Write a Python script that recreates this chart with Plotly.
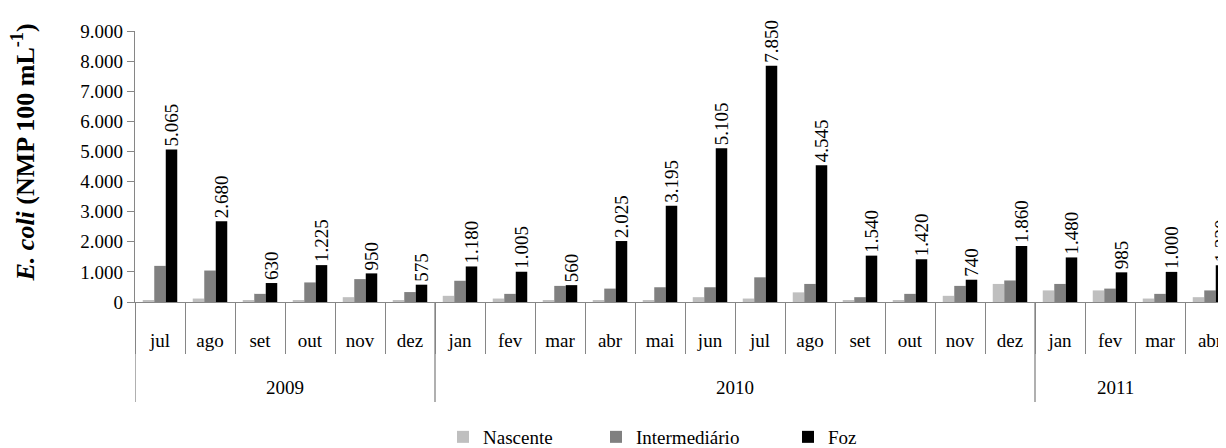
import plotly.graph_objects as go

months = ["jul", "ago", "set", "out", "nov", "dez",
          "jan", "fev", "mar", "abr", "mai", "jun", "jul", "ago", "set", "out", "nov", "dez",
          "jan", "fev", "mar", "abr"]
years = ["2009", "2010", "2011"]
year_start_idx = [0, 6, 18]
year_label_pos = [2.5, 11.5, 19.1]

nascente = [60, 115, 60, 60, 160, 50, 205, 115, 45, 45, 45, 160, 115, 320, 45, 45, 205, 600, 385, 385, 115, 160]
intermediario = [1200, 1045, 270, 650, 760, 330, 705, 270, 535, 445, 490, 490, 820, 600, 160, 270, 535, 715, 600, 445, 270, 385]
foz = [5065, 2680, 630, 1225, 950, 575, 1180, 1005, 560, 2025, 3195, 5105, 7850, 4545, 1540, 1420, 740, 1860, 1480, 985, 1000, 1220]

series_names = ["Nascente", "Intermediário", "Foz"]
colors = ["#BFBFBF", "#808080", "#000000"]

FONT = "Liberation Serif"
AX = "#868686"
x = list(range(len(months)))

# page body has an 8px margin; plot area left at 135px, top at 31px, bottom at 302px
W, H = 1218, 440
L, T = 127, 23
PW = W - L
PH = 271
B = H - T - PH


def px_x(p):
    return (p - 8 - L) / PW


def px_y(p):
    return (T + 8 + PH - p) / PH


legend_ids = ["legend", "legend2", "legend3"]
legend_left = [443, 596, 788]

fig = go.Figure()
for name, vals, col, lid in zip(series_names, [nascente, intermediario, foz], colors, legend_ids):
    kw = {}
    if name == "Foz":
        kw = dict(text=[f"{v:,}".replace(",", ".") for v in vals],
                  textposition="outside", textangle=-90, constraintext="none",
                  outsidetextfont=dict(family=FONT, size=19, color="#000"),
                  cliponaxis=False)
    fig.add_trace(go.Bar(x=x, y=vals, name=name, legend=lid,
                         marker=dict(color=col, line=dict(width=0)), **kw))

# year divider lines
div_pos = [i - 0.5 for i in year_start_idx] + [len(months) - 0.5]
shapes = []
for p in div_pos:
    shapes.append(dict(type="line", xref="x", yref="paper", x0=p, x1=p, y0=0, y1=px_y(402),
                       line=dict(color=AX, width=1.3)))
annotations = []
for yv, pos in zip(years, year_label_pos):
    annotations.append(dict(text=yv, x=pos, xref="x", y=px_y(387), yref="paper",
                            showarrow=False, font=dict(family=FONT, size=19, color="#000"),
                            xanchor="center", yanchor="middle"))
annotations.append(dict(text="<b><i>E. coli</i> (NMP 100 mL<sup>-1</sup>)</b>",
                        x=px_x(24), xref="paper", y=px_y(152.5), yref="paper", showarrow=False,
                        xanchor="center", yanchor="middle", textangle=-90,
                        font=dict(family=FONT, size=26, color="#000")))

legend_common = dict(orientation="h", xanchor="left", y=px_y(437), yanchor="middle",
                     font=dict(family=FONT, size=19, color="#000"), bgcolor="rgba(0,0,0,0)")

fig.update_layout(
    width=W, height=H,
    margin=dict(l=L, r=0, t=T, b=B, autoexpand=False),
    paper_bgcolor="white", plot_bgcolor="white",
    separators=",.",
    barmode="group", bargap=0.31, bargroupgap=0,
    font=dict(family=FONT, size=19, color="#000"),
    xaxis=dict(range=[-0.5, -0.5 + (1226 - 135) / 50], tickmode="array", tickvals=x, ticktext=months,
               ticks="outside", ticklen=21, tickcolor="rgba(0,0,0,0)",
               showline=True, linecolor=AX, linewidth=1.3, showgrid=False, zeroline=False,
               automargin=False,
               minor=dict(ticks="outside", tick0=-0.5, dtick=1, ticklen=51, tickcolor=AX, tickwidth=1.3),
               tickfont=dict(family=FONT, size=19, color="#000")),
    yaxis=dict(range=[0, 9000], dtick=1000, tickformat=",d", ticks="outside", ticklen=7,
               tickcolor=AX, tickwidth=1.3, showline=True, linecolor=AX, linewidth=1.3,
               showgrid=False, zeroline=False, automargin=False,
               tickfont=dict(family=FONT, size=19, color="#000")),
    showlegend=True,
    legend=dict(x=px_x(legend_left[0]), **legend_common),
    legend2=dict(x=px_x(legend_left[1]), **legend_common),
    legend3=dict(x=px_x(legend_left[2]), **legend_common),
    shapes=shapes,
    annotations=annotations,
)
fig.write_html("out.html")
